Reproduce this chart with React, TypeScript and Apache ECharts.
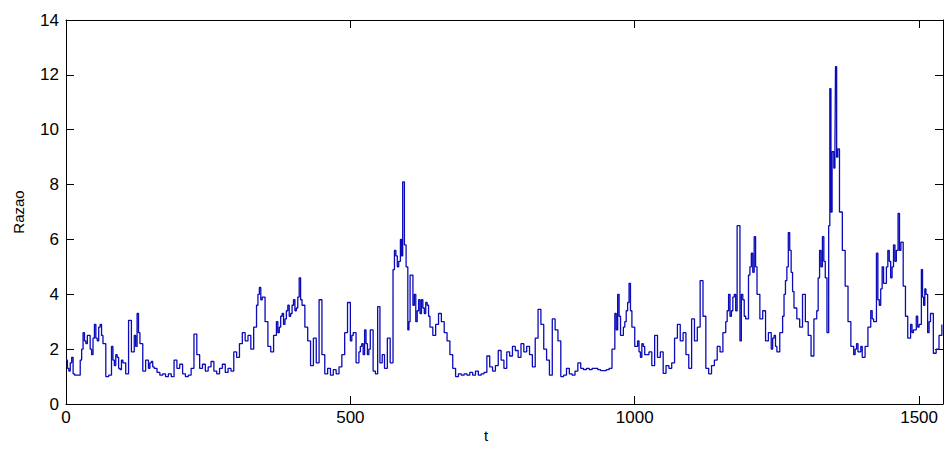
import React, { useEffect, useRef } from "react";
import * as echarts from "echarts";

const xTicks = [0, 500, 1000, 1500];
const yTicks = [0, 2, 4, 6, 8, 10, 12, 14];
const xMax = 1542;

// main readings, every ~5 samples
const razao: [number, number][] = [
  [0,1.6],[5,1.2],[10,1.7],[15,1.05],[20,1.05],[25,1.6],[30,2.6],[35,2.2],[40,2.5],[45,1.8],
  [50,2.9],[55,2.3],[60,2.9],[65,2.2],[70,1.0],[75,1.05],[80,2.1],[85,1.4],[90,1.7],[95,1.25],
  [100,1.5],[105,1.1],[110,3.05],[115,1.9],[120,2.5],[125,3.3],[130,2.2],[135,1.2],[140,1.6],[145,1.3],
  [150,1.55],[155,1.3],[160,1.15],[165,1.05],[170,1.1],[175,1.0],[180,1.1],[185,1.0],[190,1.6],[195,1.3],
  [200,1.45],[205,1.1],[210,1.0],[215,1.05],[220,1.3],[225,2.55],[230,1.8],[235,1.3],[240,1.45],[245,1.2],
  [250,1.35],[255,1.55],[260,1.2],[265,1.1],[270,1.3],[275,1.45],[280,1.15],[285,1.3],[290,1.2],[295,1.9],
  [300,1.7],[305,2.2],[310,2.6],[315,2.3],[320,2.5],[325,2.0],[330,2.8],[335,3.6],[340,4.25],[345,3.9],
  [350,3.0],[355,2.1],[360,1.9],[365,2.5],[370,3.0],[375,2.8],[380,3.3],[385,3.1],[390,3.6],[395,3.3],
  [400,3.8],[405,3.5],[410,4.6],[415,3.6],[420,2.8],[425,2.3],[430,1.4],[435,2.4],[440,1.5],[445,3.8],
  [450,1.8],[455,1.1],[460,1.3],[465,1.05],[470,1.25],[475,1.1],[480,1.35],[485,1.8],[490,2.6],[495,3.7],
  [500,2.3],[505,2.6],[510,1.5],[515,1.9],[520,2.2],[525,2.7],[530,1.8],[535,2.7],[540,1.2],[544,1.1],
  [548,3.55],[552,1.5],[556,1.8],[560,1.3],[565,2.4],[570,1.5],[575,4.9],[580,5.4],[585,5.2],[588,6.0],
  [592,8.1],[595,5.8],[598,5.0],[601,2.7],[605,4.7],[610,3.6],[615,3.0],[620,3.8],[625,3.8],[630,3.3],
  [635,3.6],[640,2.8],[645,2.5],[650,2.9],[655,3.3],[660,3.0],[665,2.6],[670,2.3],[675,1.8],[680,1.3],
  [685,1.0],[690,1.1],[695,1.05],[700,1.1],[705,1.05],[710,1.15],[715,1.05],[720,1.2],[725,1.05],[730,1.1],
  [735,1.15],[740,1.75],[745,1.35],[750,1.2],[755,1.4],[760,1.95],[765,1.6],[770,1.3],[775,1.9],[780,1.75],
  [785,2.1],[790,1.95],[795,1.7],[800,2.2],[805,1.9],[810,2.1],[815,1.8],[820,1.35],[825,2.4],[830,3.45],
  [835,2.9],[840,2.0],[845,1.6],[850,1.05],[855,3.1],[860,2.7],[865,2.3],[870,1.0],[875,1.05],[880,1.3],
  [885,1.1],[890,1.05],[895,1.2],[900,1.5],[905,1.3],[910,1.25],[915,1.3],[920,1.25],[925,1.3],[930,1.3],
  [935,1.25],[940,1.22],[945,1.22],[950,1.25],[955,1.3],[960,2.0],[965,3.3],[970,4.0],[975,2.5],[980,2.8],
  [985,3.4],[990,4.4],[995,2.8],[1000,2.1],[1005,2.3],[1010,1.7],[1015,2.1],[1020,1.8],[1025,1.9],[1030,1.4],
  [1035,2.5],[1040,1.7],[1045,1.9],[1050,1.12],[1055,1.4],[1060,1.3],[1065,1.5],[1070,2.4],[1075,2.9],[1080,2.3],
  [1085,2.6],[1090,1.8],[1095,1.3],[1100,3.1],[1105,2.3],[1110,2.8],[1115,4.5],[1120,3.2],[1125,1.3],[1130,1.1],
  [1135,1.4],[1140,1.6],[1145,2.1],[1150,1.9],[1155,2.6],[1160,3.0],[1165,4.0],[1170,3.4],[1175,4.0],[1180,6.5],
  [1185,2.3],[1190,3.8],[1195,3.1],[1200,4.7],[1205,5.5],[1210,6.1],[1215,4.0],[1220,3.1],[1225,3.4],[1230,2.3],
  [1235,2.6],[1240,2.0],[1245,2.5],[1250,1.9],[1255,2.6],[1260,3.2],[1265,4.5],[1270,6.25],[1275,4.8],[1280,3.5],
  [1285,3.1],[1290,2.8],[1295,4.0],[1300,3.0],[1305,2.5],[1310,1.75],[1315,3.1],[1320,3.4],[1325,5.6],[1330,6.1],
  [1335,4.6],[1338,2.6],[1341,6.5],[1343,11.5],[1345,7.0],[1347,9.2],[1350,8.6],[1352,9.3],[1353,12.3],[1355,9.0],
  [1357,9.3],[1360,7.0],[1365,5.6],[1370,4.3],[1375,3.0],[1380,2.1],[1385,1.8],[1390,2.2],[1395,1.9],[1400,1.7],
  [1405,2.1],[1410,2.8],[1415,3.4],[1420,3.0],[1425,5.5],[1430,3.6],[1435,5.0],[1440,4.4],[1445,5.6],[1450,4.6],
  [1455,5.8],[1460,5.6],[1463,6.95],[1468,5.9],[1472,4.3],[1476,3.2],[1480,2.4],[1485,2.9],[1490,2.7],[1495,3.2],
  [1500,2.9],[1504,4.9],[1508,3.6],[1512,4.0],[1515,2.6],[1520,3.3],[1525,1.85],[1530,2.0],[1535,2.5],[1540,2.9],
];

// extra readings inside the dense, rapidly oscillating stretches
const razaoDense: [number, number][] = [
  [2.5,1.3],[7.5,1.5],[12.5,1.1],[27.5,2.0],[32.5,2.3],[37.5,2.5],[42.5,2.0],[47.5,2.4],[52.5,2.4],[57.5,2.8],[62.5,2.5],
  [82.5,1.6],[87.5,1.8],[92.5,1.3],[97.5,1.6],[122.5,2.1],[127.5,2.6],[147.5,1.5],[152.5,1.35],
  [337.5,4.0],[342.5,3.8],[372.5,2.6],[377.5,3.2],[382.5,2.9],[387.5,3.4],[392.5,3.2],[397.5,3.6],[402.5,3.4],[407.5,3.9],[412.5,3.8],
  [502.5,2.5],[517.5,2.1],[522.5,1.8],[527.5,2.2],[532.5,2.0],
  [577.5,5.6],[582.5,5.0],[590,5.4],[603,3.0],[612.5,4.0],[617.5,3.4],[622.5,3.3],[627.5,3.5],[632.5,3.7],[637.5,3.2],
  [967.5,2.7],[972.5,3.2],[982.5,3.0],[987.5,3.7],[992.5,3.4],[1007.5,1.9],[1012.5,2.2],[1017.5,1.8],
  [1162.5,3.4],[1167.5,3.2],[1172.5,3.9],[1177.5,3.4],[1187.5,4.0],[1192.5,3.2],[1202.5,5.0],[1207.5,4.8],[1212.5,5.0],
  [1242.5,2.4],[1247.5,2.1],[1262.5,4.0],[1267.5,5.0],[1272.5,5.6],[1277.5,4.1],[1322.5,4.6],[1327.5,5.0],[1332.5,5.2],
  [1387.5,2.0],[1392.5,1.9],[1397.5,2.1],
  [1417.5,3.1],[1427.5,3.8],[1432.5,4.2],[1437.5,4.4],[1442.5,5.0],[1447.5,5.2],[1452.5,5.0],[1457.5,5.2],[1465.5,5.6],
  [1487.5,2.6],[1497.5,2.8],[1506,3.9],[1510,4.2],[1517.5,3.0],
];

const FONT = "'Liberation Sans', Arial, Helvetica, sans-serif";

export default function App() {
  const ref = useRef<HTMLDivElement>(null);
  useEffect(() => {
    if (!ref.current) return;
    const chart = echarts.init(ref.current, undefined, { renderer: "svg" });
    const data = razao.concat(razaoDense).sort((a, b) => a[0] - b[0]);
    const axisLine = { show: true, onZero: false, lineStyle: { color: "#000", width: 1 } };
    const tick = { show: true, inside: true, length: 8, lineStyle: { color: "#000", width: 1 } };
    chart.setOption({
      animation: false,
      backgroundColor: "#fff",
      grid: { left: 66, top: 20, right: -1, bottom: 51, containLabel: false },
      xAxis: [
        {
          type: "value", min: 0, max: xMax, interval: 500, position: "bottom",
          axisLine, axisTick: tick, splitLine: { show: false },
          axisLabel: {
            color: "#000", fontSize: 17, fontFamily: FONT, margin: 5,
            formatter: (v: number) => (xTicks.includes(v) ? String(v) : ""),
          },
        },
        {
          type: "value", min: 0, max: xMax, interval: 500, position: "top",
          axisLine, axisTick: tick, splitLine: { show: false }, axisLabel: { show: false },
        },
      ],
      yAxis: [
        {
          type: "value", min: 0, max: 14, interval: 2, position: "left",
          axisLine, axisTick: tick, splitLine: { show: false },
          name: "Razao", nameLocation: "middle", nameGap: 40, nameRotate: 90,
          nameTextStyle: { color: "#000", fontSize: 15, fontFamily: FONT },
          axisLabel: {
            color: "#000", fontSize: 17, fontFamily: FONT, margin: 7,
            formatter: (v: number) => (yTicks.includes(v) ? String(v) : ""),
          },
        },
        {
          type: "value", min: 0, max: 14, interval: 2, position: "right",
          axisLine, axisTick: tick, splitLine: { show: false }, axisLabel: { show: false },
        },
      ],
      graphic: [
        {
          type: "text", left: 484, top: 428,
          style: { text: "t", fill: "#000", fontSize: 15, fontFamily: FONT },
        },
      ],
      series: [
        {
          type: "line", xAxisIndex: 0, yAxisIndex: 0, data,
          step: "end", showSymbol: false, symbol: "none",
          lineStyle: { color: "#0b0bb8", width: 1.3 },
        },
      ],
    });
    return () => chart.dispose();
  }, []);
  return (
    <div
      ref={ref}
      style={{ position: "fixed", left: 0, top: 0, width: 946, height: 455, background: "#fff" }}
    />
  );
}
